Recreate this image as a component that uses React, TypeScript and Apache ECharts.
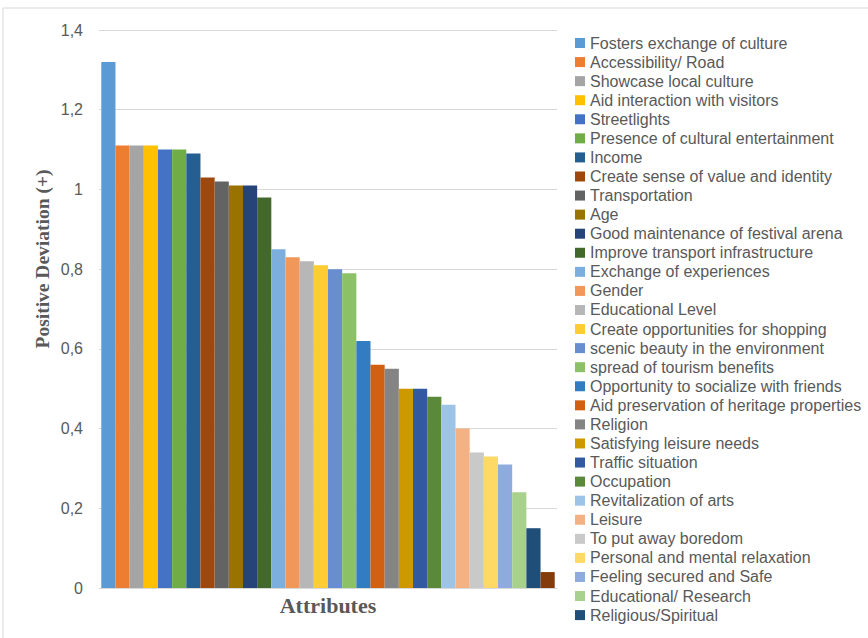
import React, { useEffect, useRef } from "react";
import * as echarts from "echarts";

const categories = [""];
const seriesNames = [
  "Fosters exchange of culture",
  "Accessibility/ Road",
  "Showcase local culture",
  "Aid interaction with visitors",
  "Streetlights",
  "Presence of cultural entertainment",
  "Income",
  "Create sense of value and identity",
  "Transportation",
  "Age",
  "Good maintenance of festival arena",
  "Improve transport infrastructure",
  "Exchange of experiences",
  "Gender",
  "Educational Level",
  "Create opportunities for shopping",
  "scenic beauty in the environment",
  "spread of tourism benefits",
  "Opportunity to socialize with friends",
  "Aid preservation of heritage properties",
  "Religion",
  "Satisfying leisure needs",
  "Traffic situation",
  "Occupation",
  "Revitalization of arts",
  "Leisure",
  "To put away boredom",
  "Personal and mental relaxation",
  "Feeling secured and Safe",
  "Educational/ Research",
  "Religious/Spiritual",
  "Series 32",
];
const seriesValues = [
  1.32, 1.11, 1.11, 1.11, 1.1, 1.1, 1.09, 1.03, 1.02, 1.01, 1.01, 0.98,
  0.85, 0.83, 0.82, 0.81, 0.8, 0.79, 0.62, 0.56, 0.55, 0.5, 0.5, 0.48,
  0.46, 0.4, 0.34, 0.33, 0.31, 0.24, 0.15, 0.04,
];
const seriesColors = [
  "#5B9BD5", "#ED7D31", "#A5A5A5", "#FFC000", "#4472C4", "#70AD47",
  "#255E91", "#9E480E", "#636363", "#997300", "#264478", "#43682B",
  "#7CAFDD", "#F1975A", "#B7B7B7", "#FFCD33", "#698ED0", "#8CC168",
  "#327DC2", "#D26012", "#848484", "#CC9A00", "#335AA1", "#5A8A39",
  "#9DC3E6", "#F4B183", "#C9C9C9", "#FFD966", "#8FAADC", "#A9D18E",
  "#1F4E79", "#843C0C",
];
const legendNames = seriesNames.slice(0, 31);
const yTicks = { min: 0, max: 1.4, interval: 0.2 };
const xAxisTitle = "Attributes";
const yAxisTitle = "Positive Deviation (+)";

export default function App() {
  const ref = useRef<HTMLDivElement>(null);
  useEffect(() => {
    if (!ref.current) return;
    const chart = echarts.init(ref.current, undefined, { renderer: "svg" });
    const textColor = "#595959";
    chart.setOption({
      animation: false,
      backgroundColor: "#ffffff",
      grid: { left: 99, right: 311, top: 30, bottom: 50 },
      legend: {
        orient: "vertical",
        left: 575,
        top: 35,
        padding: 0,
        itemWidth: 10,
        itemHeight: 10,
        itemGap: 3.07,
        icon: "rect",
        data: legendNames,
        textStyle: {
          color: textColor,
          fontFamily: "Liberation Sans",
          fontSize: 16,
          lineHeight: 16,
        },
      },
      xAxis: {
        type: "category",
        data: categories,
        name: xAxisTitle,
        nameLocation: "middle",
        nameGap: 6,
        nameTextStyle: {
          color: textColor,
          fontFamily: "Liberation Serif",
          fontWeight: "bold",
          fontSize: 22,
          verticalAlign: "top",
        },
        axisLine: { lineStyle: { color: "#d9d9d9", width: 1 } },
        axisTick: { show: false },
        axisLabel: { show: false },
      },
      yAxis: {
        type: "value",
        min: yTicks.min,
        max: yTicks.max,
        interval: yTicks.interval,
        axisLine: { show: false },
        axisTick: { show: false },
        splitLine: { lineStyle: { color: "#d9d9d9", width: 1 } },
        axisLabel: {
          color: textColor,
          fontFamily: "Liberation Sans",
          fontSize: 16,
          margin: 16,
          formatter: (v: number) => String(Math.round(v * 10) / 10).replace(".", ","),
        },
      },
      graphic: [
        {
          type: "rect",
          shape: { x: 3, y: 8, width: 900, height: 700 },
          style: { fill: "none", stroke: "#d9d9d9", lineWidth: 1 },
          silent: true,
        },
        {
          type: "text",
          x: 42,
          y: 259,
          rotation: Math.PI / 2,
          style: {
            text: yAxisTitle,
            fill: textColor,
            fontFamily: "Liberation Serif",
            fontWeight: "bold",
            fontSize: 19.5,
            align: "center",
            verticalAlign: "middle",
          },
        },
      ],
      series: seriesNames.map((name, i) => ({
        type: "bar",
        name,
        data: [seriesValues[i]],
        barGap: "0%",
        barCategoryGap: "1%",
        itemStyle: { color: seriesColors[i] },
      })),
    });
    return () => chart.dispose();
  }, []);
  return (
    <div
      ref={ref}
      style={{ position: "fixed", left: 0, top: 0, width: 868, height: 638 }}
    />
  );
}
